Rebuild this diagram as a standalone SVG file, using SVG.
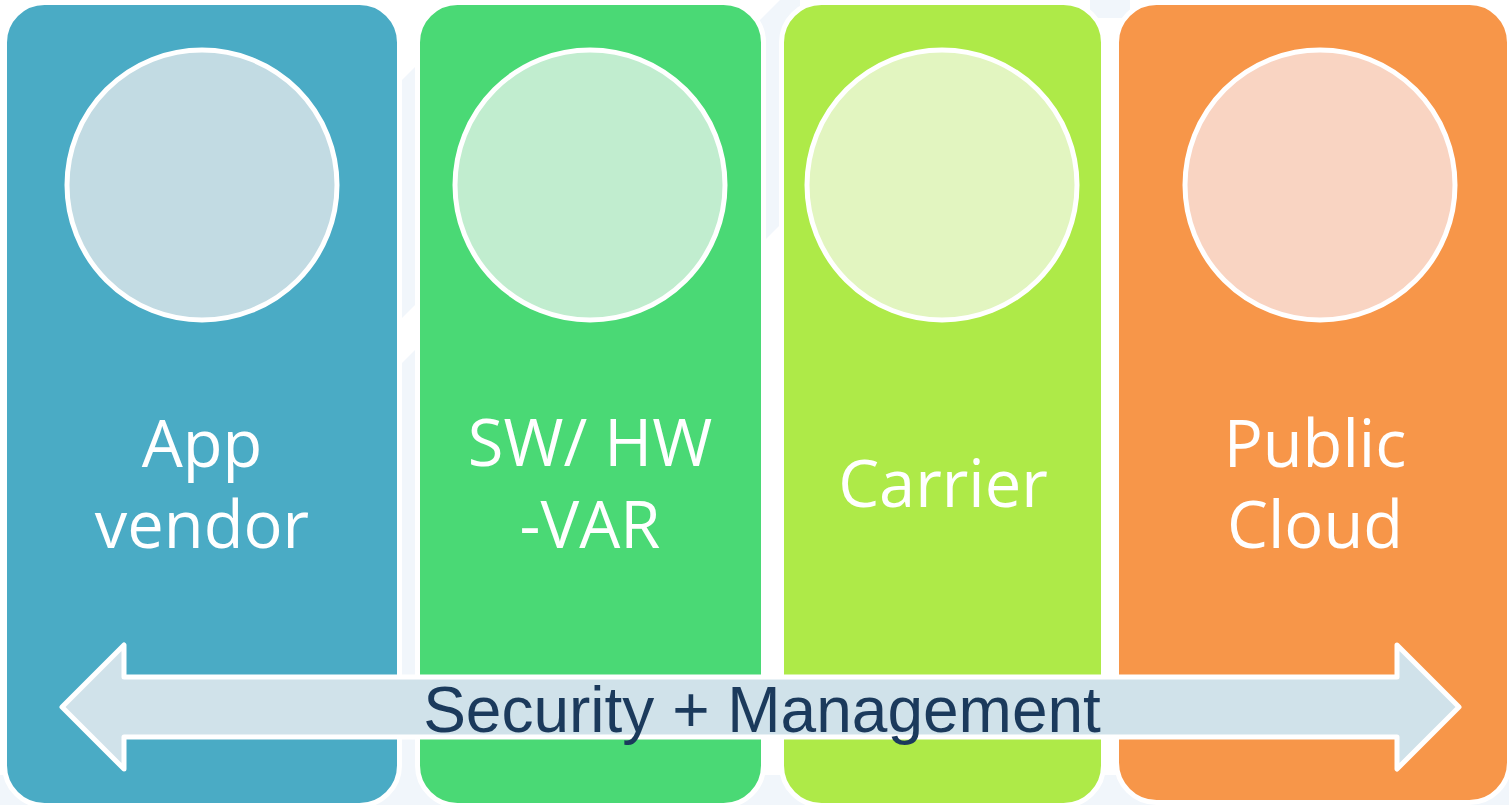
<svg xmlns="http://www.w3.org/2000/svg" width="1509" height="805" viewBox="0 0 1509 805">
  <style>
    .bg { fill: #f1f6fb; }
    .panel { stroke: #ffffff; stroke-width: 5; }
    .circ { stroke: #ffffff; stroke-width: 5; }
    .lbl { font-family: "Open Sans", "Noto Sans", sans-serif; font-size: 65px; fill: #ffffff; text-anchor: middle; }
    .bar { fill: #d0e2ea; stroke: #ffffff; stroke-width: 5; stroke-linejoin: round; }
    .barlbl { font-family: "Liberation Sans", Arial, sans-serif; font-size: 64px; fill: #1b3a5c; text-anchor: middle; }
  </style>
  <rect width="1509" height="805" fill="#ffffff"/>
  <g id="background">
    <polygon class="bg" points="380,102 430,52 430,290 380,340"/>
    <polygon class="bg" points="380,385 430,335 430,805 380,805"/>
    <polygon class="bg" points="745,35 780,0 800,0 800,205 745,260"/>
    <rect class="bg" x="1090" y="0" width="40" height="18"/>
    <rect class="bg" x="0" y="775" width="1509" height="30"/>
  </g>
  <g id="node-app-vendor">
    <rect class="panel" x="4.5" y="2.5" width="395" height="803" rx="40" fill="#4aabc5"/>
    <circle class="circ" cx="202" cy="185" r="135" fill="#c2dbe3"/>
    <text class="lbl" x="202" y="467">App</text>
    <text class="lbl" x="202" y="548">vendor</text>
  </g>
  <g id="node-sw-hw-var">
    <rect class="panel" x="417.5" y="2.5" width="346" height="803" rx="40" fill="#4ad975"/>
    <circle class="circ" cx="590" cy="185" r="135" fill="#c1edcf"/>
    <text class="lbl" x="590" y="466" font-size="67">SW/ HW</text>
    <text class="lbl" x="590" y="548" font-size="67">-VAR</text>
  </g>
  <g id="node-carrier">
    <rect class="panel" x="781.5" y="2.5" width="322" height="803" rx="40" fill="#aeea48"/>
    <circle class="circ" cx="942" cy="185" r="135" fill="#e2f5c0"/>
    <text class="lbl" x="943" y="507">Carrier</text>
  </g>
  <g id="node-public-cloud">
    <rect class="panel" x="1116.5" y="2.5" width="393" height="800" rx="40" fill="#f79649"/>
    <circle class="circ" cx="1320" cy="185" r="135" fill="#f9d4c2"/>
    <text class="lbl" x="1315" y="467">Public</text>
    <text class="lbl" x="1315" y="548">Cloud</text>
  </g>
  <g id="connectors">
    <polygon class="bar" points="62,707 124,645 124,677 1397,677 1397,645 1459,707 1397,769 1397,737 124,737 124,769"/>
    <text class="barlbl" x="762" y="732">Security + Management</text>
  </g>
</svg>
